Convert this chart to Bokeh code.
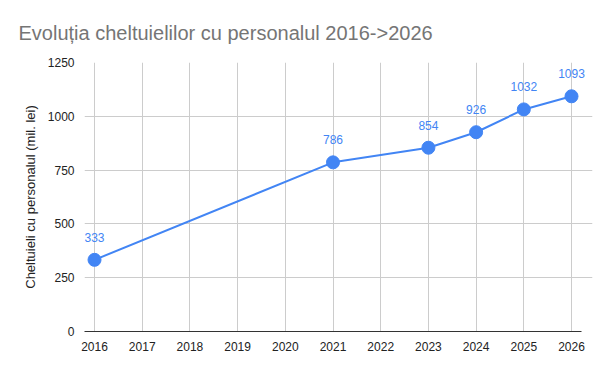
from bokeh.plotting import figure
from bokeh.embed import file_html
from bokeh.resources import INLINE
from bokeh.models import ColumnDataSource, FixedTicker, Range1d
from bokeh.core.properties import value

years = [2016, 2021, 2023, 2024, 2025, 2026]
values = [333, 786, 854, 926, 1032, 1093]
labels = [str(v) for v in values]
x_ticks = list(range(2016, 2027))
y_ticks = [0, 250, 500, 750, 1000, 1250]

FONT = "Liberation Sans"
BLUE = "#4285F4"

X0, X1 = 2015.79, 2026.21

src = ColumnDataSource(dict(x=years, y=values, t=labels))

p = figure(width=600, height=363, output_backend="svg", toolbar_location=None,
           x_range=Range1d(X0, 2026.44), y_range=Range1d(0, 1250),
           min_border_left=84, min_border_right=8, min_border_top=61, min_border_bottom=32)
p.outline_line_color = None
p.background_fill_color = "white"
p.border_fill_color = "white"

p.title.text = "Evoluția cheltuielilor cu personalul 2016->2026"
p.title.text_font = FONT
p.title.text_font_size = "20px"
p.title.text_font_style = "normal"
p.title.text_color = "#757575"
p.title.offset = -66
p.title.standoff = 38

p.xaxis.ticker = FixedTicker(ticks=x_ticks)
p.yaxis.ticker = FixedTicker(ticks=y_ticks)
for ax in (p.xaxis, p.yaxis):
    ax.major_tick_line_color = None
    ax.minor_tick_line_color = None
    ax.major_label_text_font = FONT
    ax.major_label_text_font_size = "12px"
    ax.major_label_text_color = "#222222"
p.xaxis.axis_line_color = "#333333"
p.xaxis.axis_line_width = 1
p.xaxis.bounds = (X0, X1)
p.xaxis.major_label_standoff = 4
p.yaxis.axis_line_color = None
p.yaxis.major_label_standoff = 4
p.yaxis.axis_label = "Cheltuieli cu personalul (mil. lei)"
p.yaxis.axis_label_text_font = FONT
p.yaxis.axis_label_text_font_size = "13px"
p.yaxis.axis_label_text_font_style = "normal"
p.yaxis.axis_label_text_color = "#222222"
p.yaxis.axis_label_standoff = 7

p.xgrid.grid_line_color = "#cccccc"
p.ygrid.grid_line_color = "#cccccc"
p.ygrid.bounds = (X0, X1)

p.line("x", "y", source=src, line_color=BLUE, line_width=2)
p.scatter("x", "y", source=src, size=13, fill_color=BLUE, line_color=BLUE)
p.text("x", "y", text="t", source=src, text_align="center", text_baseline="bottom",
       y_offset=-18, text_font=value(FONT), text_font_size="12px", text_color=BLUE)

open("out.html", "w").write(file_html(p, INLINE))
